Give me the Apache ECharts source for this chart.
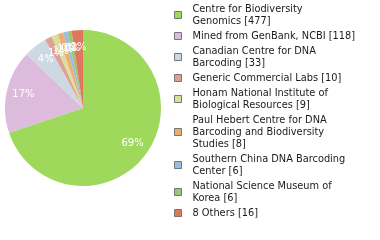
<!DOCTYPE html>
<html>
<head>
<meta charset="utf-8">
<script src="https://cdn.jsdelivr.net/npm/echarts@6/dist/echarts.min.js"></script>
<style>
html,body{margin:0;padding:0;background:#fff;}
#chart{width:380px;height:240px;}
</style>
</head>
<body>
<div id="chart"></div>
<script>
const categories = [
  "Centre for Biodiversity Genomics",
  "Mined from GenBank, NCBI",
  "Canadian Centre for DNA Barcoding",
  "Generic Commercial Labs",
  "Honam National Institute of Biological Resources",
  "Paul Hebert Centre for DNA Barcoding and Biodiversity Studies",
  "Southern China DNA Barcoding Center",
  "National Science Museum of Korea",
  "8 Others"
];
const counts = [477, 118, 33, 10, 9, 8, 6, 6, 16];
const colors = ["#9ed95c", "#dcbbdc", "#ccd9e3", "#dea193", "#dadf9b", "#eead6e", "#9dbce2", "#98c777", "#df765e"];

function wrapName(name, count) {
  const words = name.split(" ");
  const lines = [];
  let cur = "";
  for (const w of words) {
    if (cur && (cur + " " + w).length > 30) { lines.push(cur); cur = w; }
    else cur = cur ? cur + " " + w : w;
  }
  lines.push(cur + " [" + count + "]");
  return lines.map(l => "{g|}" + l).join("\n");
}

const data = categories.map((c, i) => ({ name: c, value: counts[i] }));
const labelMap = {};
categories.forEach((c, i) => { labelMap[c] = wrapName(c, counts[i]); });

const fontFam = "'DejaVu Sans', sans-serif";
const chart = echarts.init(document.getElementById("chart"), null, { renderer: "canvas" });
chart.setOption({
  animation: false,
  color: colors,
  legend: {
    orient: "vertical",
    left: 174,
    top: 3,
    padding: 0,
    itemWidth: 7,
    itemHeight: 7,
    itemGap: 3,
    icon: "rect",
    selectedMode: false,
    itemStyle: { borderColor: "#777", borderWidth: 1 },
    textStyle: {
      fontFamily: fontFam,
      fontSize: 9.8,
      lineHeight: 12,
      color: "#1a1a1a",
      rich: { g: { width: 6, lineHeight: 12, fontSize: 9.8 } }
    },
    formatter: name => labelMap[name],
    data: categories
  },
  series: [
    {
      type: "pie",
      center: [83, 108],
      radius: [0, 78],
      startAngle: 90,
      clockwise: true,
      label: { show: false },
      labelLine: { show: false },
      itemStyle: { borderWidth: 0 },
      emphasis: { disabled: true },
      data: data
    },
    {
      type: "pie",
      center: [83, 108],
      radius: [38, 78],
      startAngle: 90,
      clockwise: true,
      silent: true,
      legendHoverLink: false,
      avoidLabelOverlap: false,
      labelLayout: { hideOverlap: false },
      itemStyle: { color: "rgba(0,0,0,0)", borderWidth: 0 },
      label: {
        show: true,
        position: "inside",
        color: "#fff",
        fontFamily: fontFam,
        fontSize: 10,
        formatter: p => Math.floor(p.percent) + "%"
      },
      labelLine: { show: false },
      emphasis: { disabled: true },
      data: data
    }
  ]
});
</script>
</body>
</html>
